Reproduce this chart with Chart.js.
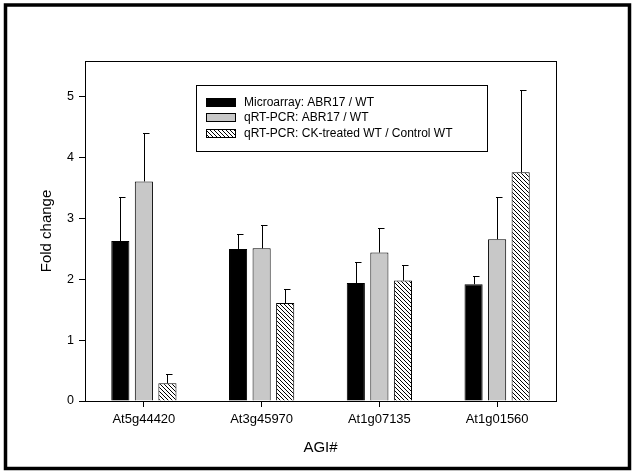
<!DOCTYPE html>
<html>
<head>
<meta charset="utf-8">
<script src="https://cdn.jsdelivr.net/npm/chart.js@4.4.0/dist/chart.umd.min.js"></script>
<style>
  html, body { margin: 0; padding: 0; background: #fff; }
  canvas { display: block; }
</style>
</head>
<body>
<canvas id="barchart" width="636" height="475"></canvas>
<script>
// data
const categories = ['At5g44420', 'At3g45970', 'At1g07135', 'At1g01560'];
const seriesNames = [
  'Microarray: ABR17 / WT',
  'qRT-PCR: ABR17 / WT',
  'qRT-PCR: CK-treated WT / Control WT',
];
const microarray = [2.63, 2.50, 1.94, 1.92];
const microarrayErr = [0.72, 0.25, 0.35, 0.13];
const qrtAbr17 = [3.61, 2.51, 2.44, 2.66];
const qrtAbr17Err = [0.80, 0.39, 0.41, 0.70];
const qrtCk = [0.29, 1.61, 1.98, 3.76];
const qrtCkErr = [0.16, 0.23, 0.25, 1.36];
const yTicks = [0, 1, 2, 3, 4, 5];
const yMax = 5.59;

const FONT = '"Liberation Sans", Arial, sans-serif';

// diagonal hatch fill
function makeHatch() {
  const c = document.createElement('canvas');
  c.width = 4;
  c.height = 4;
  const g = c.getContext('2d');
  g.fillStyle = '#fff';
  g.fillRect(0, 0, 4, 4);
  g.strokeStyle = '#000';
  g.lineWidth = 1;
  g.beginPath();
  g.moveTo(-1, -1); g.lineTo(5, 5);
  g.moveTo(-1, 3); g.lineTo(1, 5);
  g.moveTo(3, -1); g.lineTo(5, 1);
  g.stroke();
  return g.createPattern(c, 'repeat');
}
const hatch = makeHatch();

const fills = ['#000000', '#c8c8c8', hatch];
const values = [microarray, qrtAbr17, qrtCk];
const errors = [microarrayErr, qrtAbr17Err, qrtCkErr];

const dataSet = seriesNames.map((name, i) => ({
  label: name,
  data: values[i],
  errors: errors[i],
  backgroundColor: fills[i],
  borderColor: '#000',
  borderWidth: 1,
  categoryPercentage: 0.6,
  barPercentage: 0.77,
}));

// white page with thick outer border
const pageFrame = {
  id: 'pageFrame',
  beforeDraw(chart) {
    const ctx = chart.ctx;
    ctx.save();
    ctx.fillStyle = '#fff';
    ctx.fillRect(0, 0, chart.width, chart.height);
    ctx.strokeStyle = '#000';
    ctx.lineWidth = 3.5;
    ctx.strokeRect(5.5, 5, 624, 463.5);
    ctx.restore();
  },
  afterDraw(chart) {
    const a = chart.chartArea;
    const ctx = chart.ctx;
    ctx.save();
    ctx.strokeStyle = '#000';
    ctx.lineWidth = 1;
    ctx.strokeRect(Math.round(a.left) + 0.5, Math.round(a.top) + 0.5,
      Math.round(a.right - a.left), Math.round(a.bottom - a.top));
    ctx.restore();
  },
};

// upward error bars with a small cap
const errorBars = {
  id: 'errorBars',
  afterDatasetsDraw(chart) {
    const ctx = chart.ctx;
    const y = chart.scales.y;
    ctx.save();
    ctx.strokeStyle = '#000';
    ctx.lineWidth = 1;
    chart.data.datasets.forEach((ds, i) => {
      chart.getDatasetMeta(i).data.forEach((bar, j) => {
        const x = Math.round(bar.x) + 0.5;
        const top = Math.round(y.getPixelForValue(ds.data[j] + ds.errors[j])) + 0.5;
        ctx.beginPath();
        ctx.moveTo(x, bar.y);
        ctx.lineTo(x, top);
        ctx.moveTo(x - 1.5, top);
        ctx.lineTo(x + 5, top);
        ctx.stroke();
      });
    });
    ctx.restore();
  },
};

// boxed legend inside the plot
const boxLegend = {
  id: 'boxLegend',
  afterDraw(chart) {
    const ctx = chart.ctx;
    ctx.save();
    ctx.strokeStyle = '#000';
    ctx.lineWidth = 1;
    ctx.fillStyle = '#fff';
    ctx.fillRect(196.5, 85.5, 291, 66);
    ctx.strokeRect(196.5, 85.5, 291, 66);
    ctx.font = '12px ' + FONT;
    ctx.textBaseline = 'middle';
    chart.data.datasets.forEach((ds, i) => {
      const cy = 102 + i * 15.5;
      ctx.fillStyle = ds.backgroundColor;
      ctx.fillRect(206, Math.round(cy - 4.5), 30, 9);
      ctx.strokeRect(206.5, Math.round(cy - 4.5) + 0.5, 29, 8);
      ctx.fillStyle = '#000';
      ctx.fillText(ds.label, 244, cy + 0.5);
    });
    ctx.restore();
  },
};

new Chart(document.getElementById('barchart'), {
  type: 'bar',
  data: {
    labels: categories,
    datasets: dataSet,
  },
  plugins: [pageFrame, errorBars, boxLegend],
  options: {
    responsive: false,
    animation: false,
    devicePixelRatio: 1,
    layout: {
      padding: { left: 38, right: 80, top: 61, bottom: 18 },
    },
    plugins: {
      legend: { display: false },
      tooltip: { enabled: false },
    },
    scales: {
      x: {
        grid: { display: true, offset: false, drawOnChartArea: false, tickLength: 6, color: '#000' },
        border: { color: '#000', width: 1 },
        ticks: { color: '#000', padding: 5, font: { family: FONT, size: 13 } },
        title: {
          display: true,
          text: 'AGI#',
          color: '#000',
          padding: 0,
          font: { family: FONT, size: 15 },
        },
        afterFit(scale) { scale.height = 56; },
      },
      y: {
        min: 0,
        max: yMax,
        grid: { display: true, drawOnChartArea: false, tickLength: 6, color: '#000' },
        border: { color: '#000', width: 1 },
        ticks: { color: '#000', padding: 5, font: { family: FONT, size: 12.5 } },
        afterBuildTicks(scale) { scale.ticks = yTicks.map(v => ({ value: v })); },
        title: {
          display: true,
          text: 'Fold change',
          color: '#000',
          padding: 0,
          font: { family: FONT, size: 15 },
        },
        afterFit(scale) { scale.width = 47; },
      },
    },
  },
});
</script>
</body>
</html>
